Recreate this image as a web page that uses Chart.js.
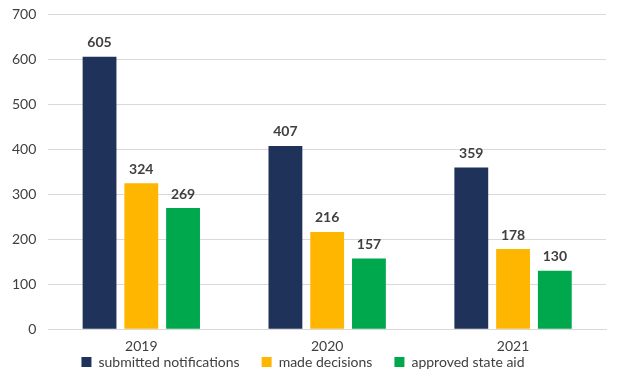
<!DOCTYPE html>
<html>
<head>
<meta charset="utf-8">
<script src="https://cdn.jsdelivr.net/npm/chart.js@4"></script>
<style>
  html, body { margin: 0; padding: 0; background: #fff; }
  #wrap { width: 620px; height: 382px; }
</style>
</head>
<body>
<div id="wrap"><canvas id="stateAidChart"></canvas></div>
<script>
// data
const years = ["2019", "2020", "2021"];
const submittedNotifications = [605, 407, 359];
const madeDecisions = [324, 216, 178];
const approvedStateAid = [269, 157, 130];
const yTicks = [0, 100, 200, 300, 400, 500, 600, 700];

const FONT = "Lato, 'Open Sans', sans-serif";

// draws the value above each bar
const valueLabels = {
  id: "valueLabels",
  afterDatasetsDraw(chart) {
    const c = chart.ctx;
    c.save();
    c.font = "bold 14px " + FONT;
    c.fillStyle = "#404040";
    c.textAlign = "center";
    c.textBaseline = "bottom";
    chart.data.datasets.forEach((ds, i) => {
      chart.getDatasetMeta(i).data.forEach((bar, j) => {
        c.fillText(ds.data[j], bar.x, bar.y - 7);
      });
    });
    c.restore();
  }
};

// legend items want wide gaps but little height
const SHIFT = 23;
const tightLegend = {
  id: "tightLegend",
  afterInit(chart) {
    const lg = chart.legend;
    const fit = lg.fit;
    lg.fit = function () {
      fit.call(this);
      this.height -= SHIFT;
    };
    const draw = lg.draw;
    lg.draw = function () {
      this.top -= SHIFT;
      draw.call(this);
      this.top += SHIFT;
    };
  }
};

new Chart(document.getElementById("stateAidChart"), {
  type: "bar",
  data: {
    labels: years,
    datasets: [
      { label: "submitted notifications", data: submittedNotifications, backgroundColor: "#1F3259" },
      { label: "made decisions", data: madeDecisions, backgroundColor: "#FFB600" },
      { label: "approved state aid", data: approvedStateAid, backgroundColor: "#00A84D" }
    ]
  },
  options: {
    responsive: true,
    maintainAspectRatio: false,
    animation: false,
    categoryPercentage: 0.674,
    barPercentage: 0.81,
    layout: { padding: { top: 14, right: 14, left: 0, bottom: 3 } },
    plugins: {
      tooltip: { enabled: false },
      legend: {
        position: "bottom",
        labels: {
          boxWidth: 10,
          boxHeight: 10,
          padding: 22,
          color: "#404040",
          font: { family: FONT, size: 14 }
        }
      }
    },
    scales: {
      x: {
        grid: { display: false },
        border: { color: "#d9d9d9" },
        ticks: { color: "#404040", font: { family: FONT, size: 14 }, padding: 1 }
      },
      y: {
        min: 0,
        max: 700,
        afterBuildTicks(axis) { axis.ticks = yTicks.map(v => ({ value: v })); },
        afterFit(axis) { axis.paddingTop = 0; },
        grid: { color: "#d9d9d9", drawTicks: false },
        border: { display: false },
        ticks: { color: "#404040", font: { family: FONT, size: 14 }, padding: 12 }
      }
    }
  },
  plugins: [valueLabels, tightLegend]
});
</script>
</body>
</html>
